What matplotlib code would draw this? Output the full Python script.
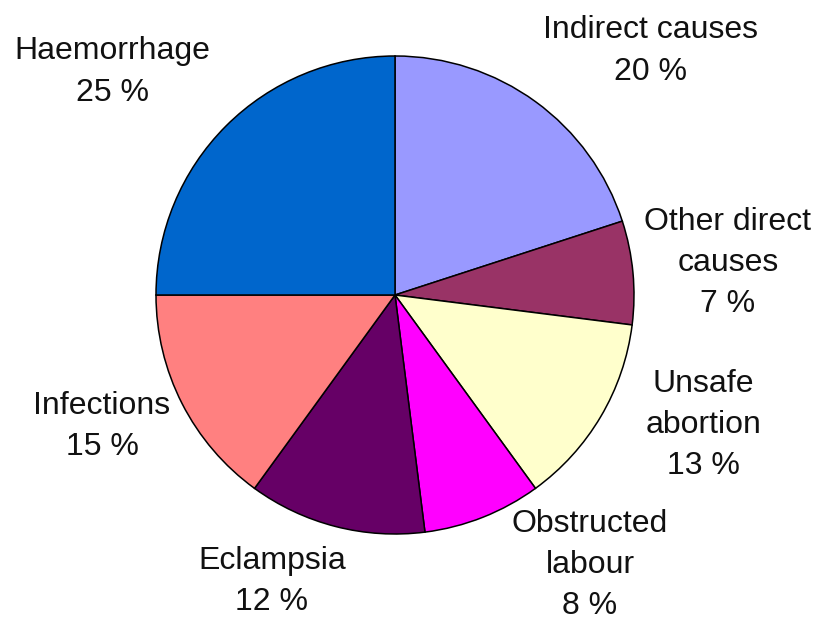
import matplotlib.pyplot as plt

causes = ["Indirect causes", "Other direct\ncauses", "Unsafe\nabortion",
          "Obstructed\nlabour", "Eclampsia", "Infections", "Haemorrhage"]
shares = [20, 7, 13, 8, 12, 15, 25]
colors = ["#9999FF", "#993366", "#FFFFCC", "#FF00FF", "#660066", "#FF8080", "#0066CC"]

# label block centres in pie units (radius = 1)
label_xy = [(1.071, 1.021), (1.393, 0.134), (1.289, -0.544), (0.816, -1.128),
            (-0.515, -1.200), (-1.226, -0.552), (-1.184, 0.933)]

plt.rcParams["font.family"] = ["Liberation Sans", "DejaVu Sans"]

fig = plt.figure(figsize=(8.19, 6.23), dpi=100)
ax = fig.add_axes([0, 0, 1, 1])
ax.pie(shares, colors=colors, startangle=90, counterclock=False, radius=1,
       wedgeprops=dict(edgecolor="black", linewidth=1.1))

for name, pct, (x, y) in zip(causes, shares, label_xy):
    ax.text(x, y, f"{name}\n{pct} %", ha="center", va="center",
            fontsize=23, linespacing=1.48, color="#111111")

ax.set_xlim(-395 / 239, (819 - 395) / 239)
ax.set_ylim(-(623 - 295) / 239, 295 / 239)
ax.set_aspect("equal")
ax.axis("off")

fig.savefig("out.png", dpi=100, facecolor="white")
